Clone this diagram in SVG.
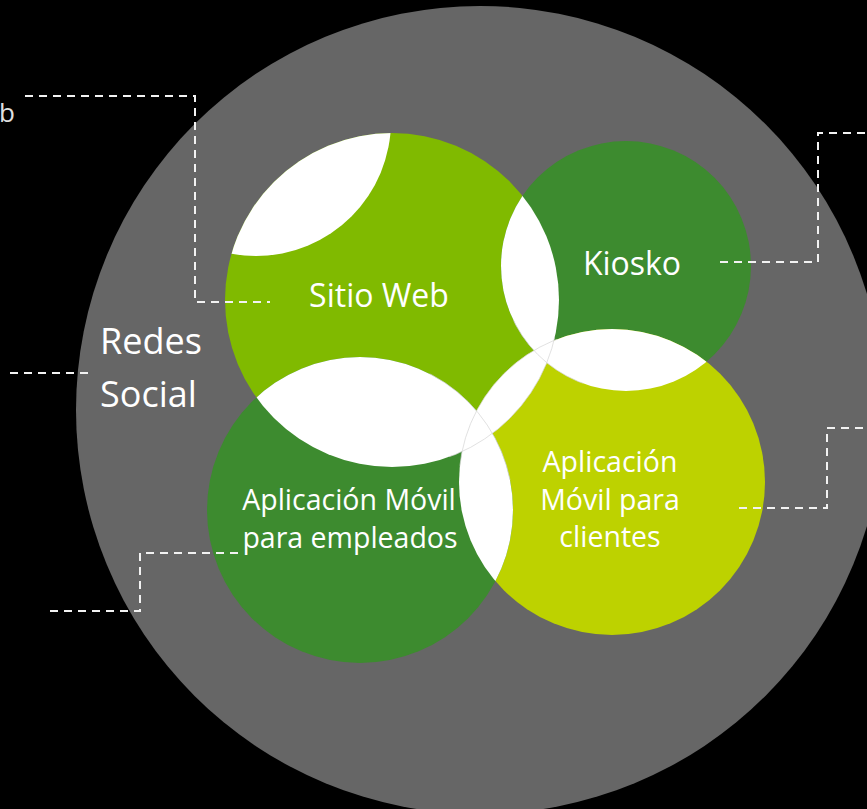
<svg xmlns="http://www.w3.org/2000/svg" width="867" height="809" viewBox="0 0 867 809">
  <style>
    .label { font-family: "Open Sans", "Noto Sans", "Liberation Sans", sans-serif; fill: #ffffff; }
    .mid { text-anchor: middle; }
    .link { fill: none; stroke: #f2f2f2; stroke-width: 2; stroke-dasharray: 8 6; }
    .seam { fill: none; stroke: #d4d4d4; stroke-width: 0.7; }
  </style>
  <defs>
    <clipPath id="clip-sitio"><circle cx="392" cy="300" r="167"/></clipPath>
    <clipPath id="clip-kiosko"><circle cx="626" cy="266" r="125"/></clipPath>
    <clipPath id="clip-clientes"><circle cx="612" cy="482" r="153"/></clipPath>
    <clipPath id="clip-empleados"><circle cx="360" cy="510" r="153"/></clipPath>
    <clipPath id="clip-core"><circle cx="505" cy="400" r="80"/></clipPath>
  </defs>

  <rect width="867" height="809" fill="#000000"/>

  <!-- outer channel: social networks -->
  <g id="redes-social">
    <circle cx="480" cy="410" r="404" fill="#666666"/>
    <text class="label" x="100" y="354" font-size="36">Redes</text>
    <text class="label" x="100" y="407" font-size="36">Social</text>
  </g>

  <g id="sitio-web">
    <circle cx="392" cy="300" r="167" fill="#80ba00"/>
  </g>
  <g id="kiosko">
    <circle cx="626" cy="266" r="125" fill="#3d8b2f"/>
  </g>
  <g id="app-clientes">
    <circle cx="612" cy="482" r="153" fill="#bdd200"/>
  </g>
  <g id="app-empleados">
    <circle cx="360" cy="510" r="153" fill="#3d8b2f"/>
  </g>

  <!-- white overlaps between channels -->
  <g id="overlaps" fill="#ffffff">
    <g clip-path="url(#clip-sitio)">
      <circle cx="256" cy="121" r="135"/>
      <circle cx="626" cy="266" r="125"/>
      <circle cx="612" cy="482" r="153"/>
      <circle cx="360" cy="510" r="153"/>
    </g>
    <g clip-path="url(#clip-clientes)">
      <circle cx="626" cy="266" r="125"/>
      <circle cx="360" cy="510" r="153"/>
    </g>
    <g clip-path="url(#clip-core)">
      <circle class="seam" cx="392" cy="300" r="167"/>
      <circle class="seam" cx="626" cy="266" r="125"/>
      <circle class="seam" cx="612" cy="482" r="153"/>
      <circle class="seam" cx="360" cy="510" r="153"/>
    </g>
  </g>

  <!-- labels -->
  <g id="labels">
    <text class="label mid" x="379" y="307" font-size="32">Sitio Web</text>
    <text class="label mid" x="632" y="275" font-size="32">Kiosko</text>
    <text class="label mid" x="349" y="510" font-size="28.5">Aplicación Móvil</text>
    <text class="label mid" x="350" y="548" font-size="28.5">para empleados</text>
    <text class="label mid" x="610" y="472" font-size="28.5">Aplicación</text>
    <text class="label mid" x="610" y="510" font-size="28.5">Móvil para</text>
    <text class="label mid" x="610" y="547" font-size="28.5">clientes</text>
    <text class="label" x="-1" y="122" font-size="26" style="fill:#e0e0e0">b</text>
  </g>

  <!-- dashed leader lines -->
  <g id="connectors">
    <polyline class="link" points="25,96 195,96 195,302 270,302"/>
    <polyline class="link" points="10,373 92,373"/>
    <polyline class="link" points="238,553 140,553 140,611 45,611"/>
    <polyline class="link" points="720,262 818,262 818,133 867,133"/>
    <polyline class="link" points="739,508 827,508 827,428 867,428"/>
  </g>
</svg>
